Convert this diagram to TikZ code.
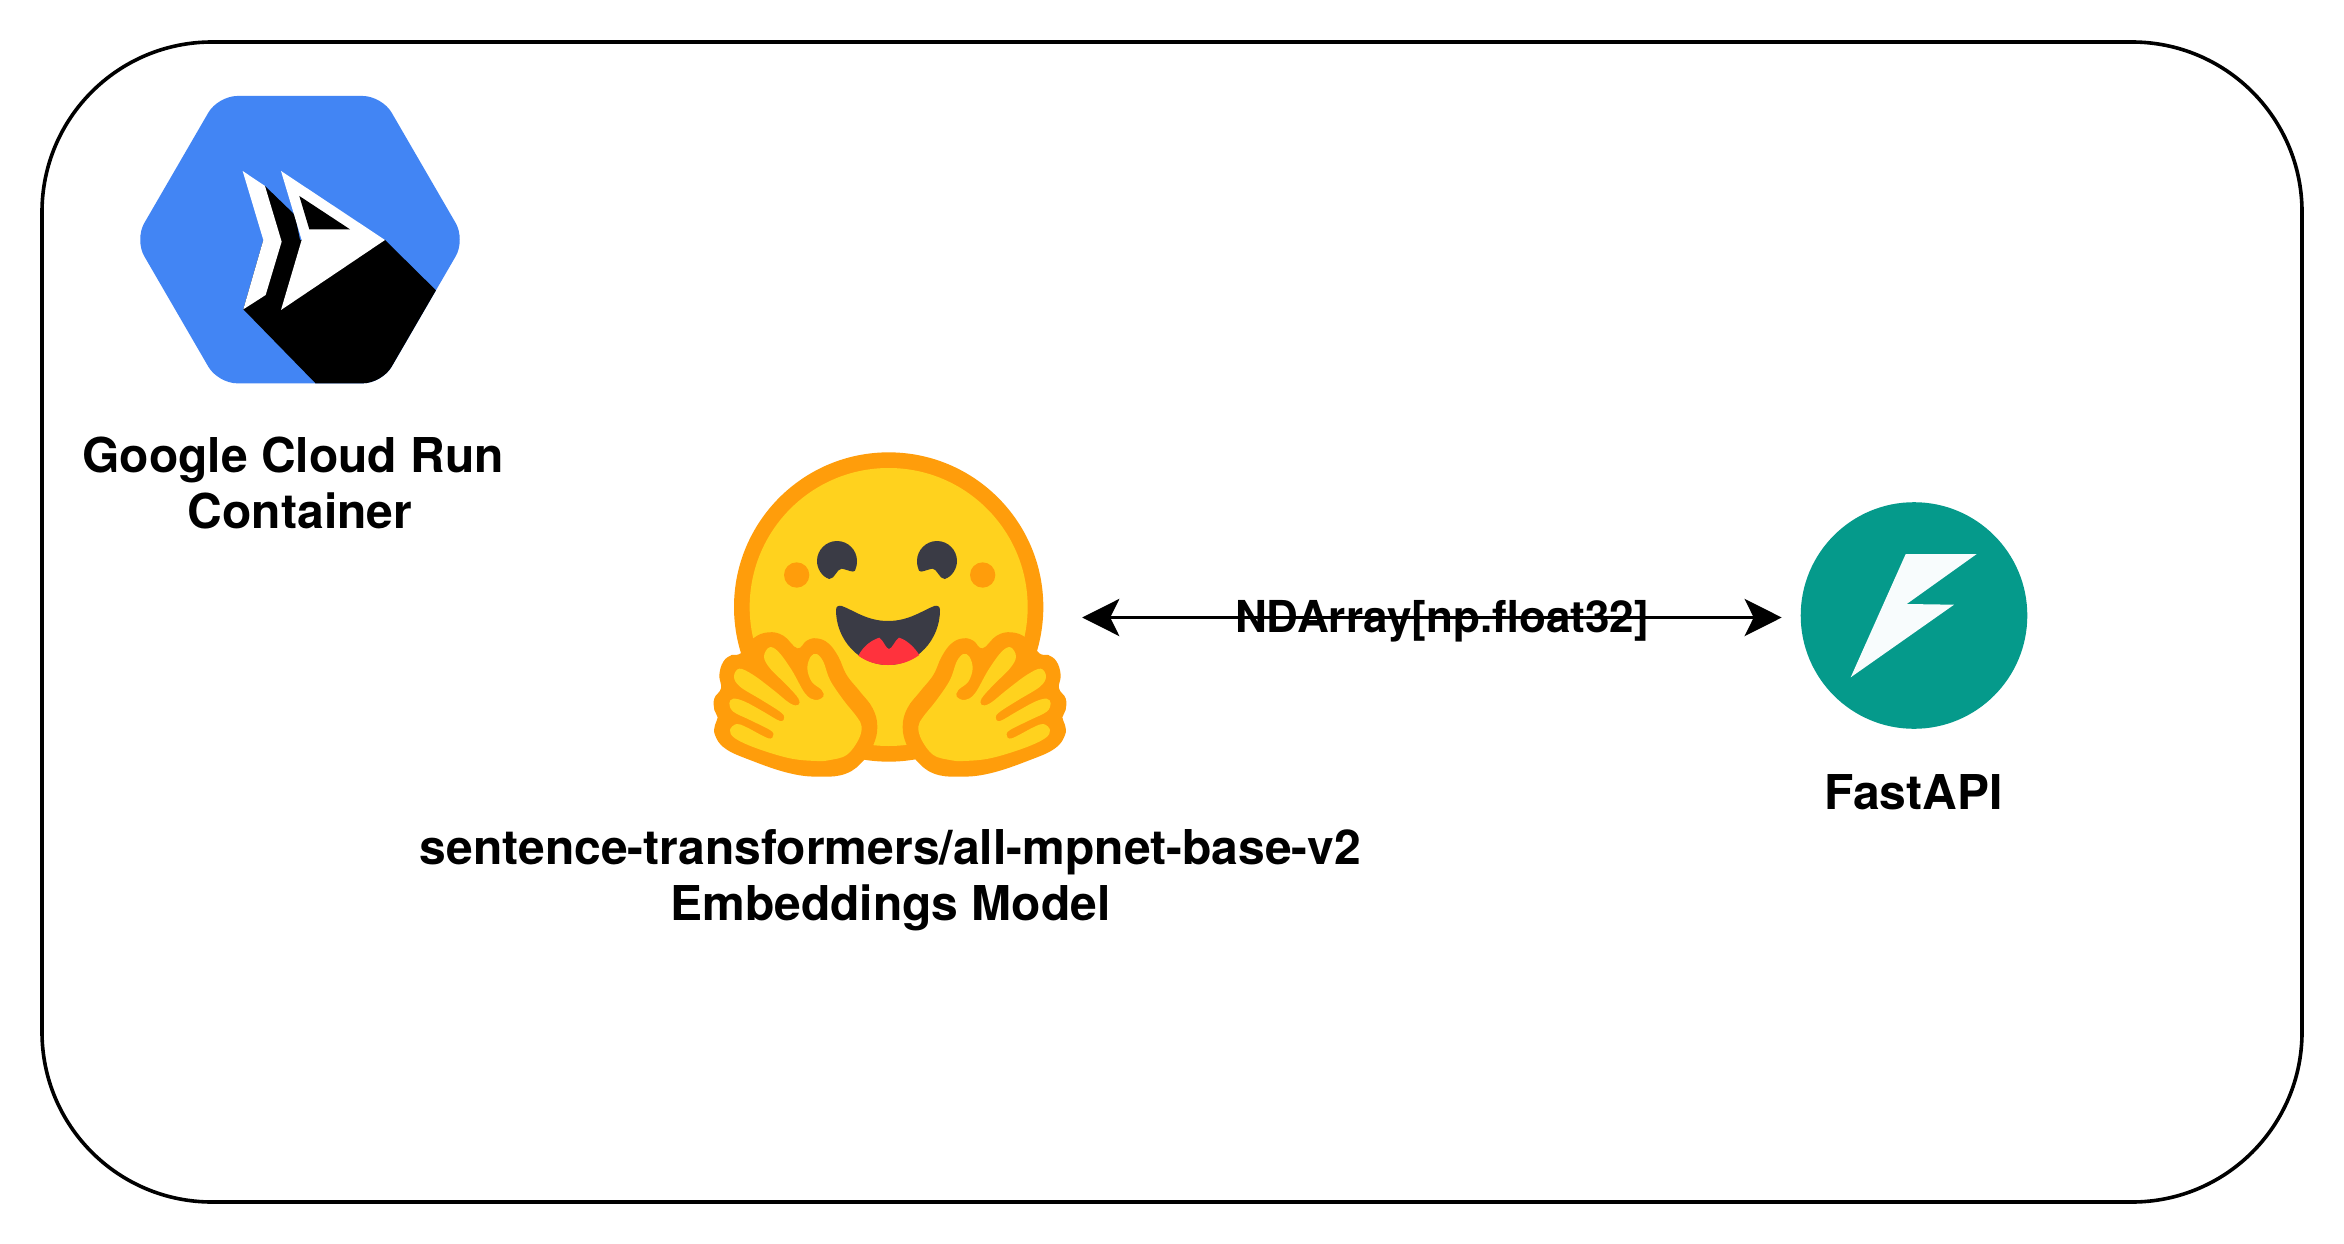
\documentclass[tikz,border=0pt]{standalone}
\usepackage{fontspec}
\setmainfont{TeX Gyre Heros}
\usetikzlibrary{arrows.meta}
\definecolor{gblue}{HTML}{4285F4}
\definecolor{hforange}{HTML}{FF9D0B}
\definecolor{hfyellow}{HTML}{FFD21E}
\definecolor{hfdark}{HTML}{3A3B45}
\definecolor{hfred}{HTML}{FF323D}
\definecolor{fteal}{HTML}{059A8B}
\definecolor{fbolt}{HTML}{F8FCFD}
\tikzset{
  lbl/.style={font=\bfseries\fontsize{48}{56}\selectfont,align=center,inner sep=0pt,text=black},
  flowlbl/.style={font=\bfseries\fontsize{44}{52}\selectfont,inner sep=0pt,text=black},
  flow/.style={line width=3.8pt,draw=black,{Stealth[length=37pt,width=37pt,inset=9pt]}-{Stealth[length=37pt,width=37pt,inset=9pt]}},
  frame/.style={draw=black,line width=3.6pt,rounded corners=170pt,fill=white}
}
\def\handouter{plot[smooth cycle,tension=0.7] coordinates {(395,1040)(300,1030)(180,990)(105,955)(75,915)(75,885)(83,862)(73,840)(73,805)(93,775)(88,735)(100,695)(125,675)(152,670)(190,625)(235,607)(280,617)(322,655)(350,632)(380,625)(415,640)(445,680)(470,735)(510,785)(548,835)(562,890)(550,945)(522,990)(470,1030)}}
\def\handinner{plot[smooth cycle,tension=0.6] coordinates {(380,993)(300,985)(200,955)(135,925)(120,900)(140,882)(170,892)(235,925)(250,915)(240,900)(180,870)(130,845)(118,820)(130,806)(165,815)(220,845)(270,873)(283,862)(270,845)(215,810)(150,770)(132,740)(148,716)(190,735)(250,780)(300,820)(325,825)(325,805)(290,765)(240,715)(222,680)(238,652)(265,665)(305,720)(345,790)(375,810)(400,800)(395,780)(365,755)(352,715)(362,680)(380,672)(400,695)(420,750)(460,810)(500,860)(515,890)(505,930)(470,975)(420,990)}}
\def\hfeye{(418,447) .. controls (395,440) and (381,415) .. (381,393) .. controls (381,360) and (408,333) .. (441,333) .. controls (474,333) and (501,360) .. (501,393) .. controls (501,405) and (498,415) .. (495,422) .. controls (490,430) and (470,418) .. (455,416) .. controls (440,416) and (435,447) .. (418,447) -- cycle}
\begin{document}
\begin{tikzpicture}[x=1pt,y=-1pt]
\useasboundingbox (0,0) rectangle (2344,1244);
\fill[white] (0,0) rectangle (2344,1244);
\node[frame,minimum width=2260pt,minimum height=1160pt,inner sep=0pt] (container) at (1172,622) {};

% Cloud Run logo
\begin{scope}[shift={(100,60)},scale=0.33333]
\begin{scope}
\path[clip,rounded corners=19pt] (354,108) -- (846,108) -- (1096,539) -- (846,970) -- (354,970) -- (104,539) -- cycle;
\fill[gblue] (90,100) rectangle (1110,980);
\fill[black] (495,378) -- (585,465) -- (600,540) -- (855,540) -- (1015,698) -- (1015,1000) -- (676,1000) -- (430,748) -- (490,540) -- cycle;
\end{scope}
\fill[white] (428,333) -- (495,378) -- (545,545) -- (497,705) -- (430,748) -- (490,540) -- cycle;
\fill[white] (543,333) -- (855,540) -- (543,750) -- (605,540) -- cycle;
\fill[black] (598,408) -- (750,508) -- (628,508) -- cycle;
\end{scope}
\node[lbl] (gcrlabel) at (300,483) {Google Cloud Run\hspace*{14pt}\\Container};

% Hugging Face logo
\begin{scope}[shift={(690,430)},scale=0.33333]
\fill[hforange] (596,531) circle[radius=464];
\fill[hfyellow] (596,531) circle[radius=417];
\fill[hforange] (320,435) circle[radius=38];
\fill[hforange] (878,435) circle[radius=38];
\fill[hfdark] \hfeye;
\begin{scope}[shift={(1182,0)},xscale=-1]
\fill[hfdark] \hfeye;
\end{scope}
\fill[hfdark] (438,540) .. controls (438,530) and (445,525) .. (455,528) .. controls (490,540) and (530,573) .. (594,573) .. controls (658,573) and (700,540) .. (733,528) .. controls (743,525) and (750,530) .. (750,540) .. controls (750,630) and (680,705) .. (594,705) .. controls (508,705) and (438,630) .. (438,540) -- cycle;
\fill[hfred] (505,677) .. controls (520,648) and (545,630) .. (568,623) .. controls (580,630) and (588,657) .. (597,657) .. controls (606,657) and (615,630) .. (627,623) .. controls (650,630) and (672,650) .. (688,675) .. controls (660,695) and (630,705) .. (594,705) .. controls (560,705) and (530,695) .. (505,677) -- cycle;
\fill[hforange] \handouter;
\fill[hfyellow] \handinner;
\begin{scope}[shift={(1200,0)},xscale=-1]
\fill[hforange] \handouter;
\fill[hfyellow] \handinner;
\end{scope}
\end{scope}
\node[inner sep=0pt,minimum width=360pt,minimum height=360pt] (hficon) at (902,617.5) {};
\node[lbl] (hflabel) at (890.5,880) {sentence-transformers/all-mpnet-base-v2\\Embeddings Model};

% FastAPI logo
\node[circle,fill=fteal,inner sep=0pt,minimum size=226.6pt,outer sep=19pt] (fastapi) at (1914,615.5) {};
\fill[fbolt] (1905.7,554) -- (1976.7,554) -- (1906.7,604) -- (1954,604.7) -- (1850.7,677.3) -- cycle;
\node[lbl] (falabel) at (1913.5,792.5) {FastAPI};

% Connector
\draw[flow] (hficon.east) -- (hficon.east -| fastapi.west);
\node[flowlbl,anchor=base] (flowlabel) at (1442,632) {NDArray[np.float32]};
\end{tikzpicture}
\end{document}
